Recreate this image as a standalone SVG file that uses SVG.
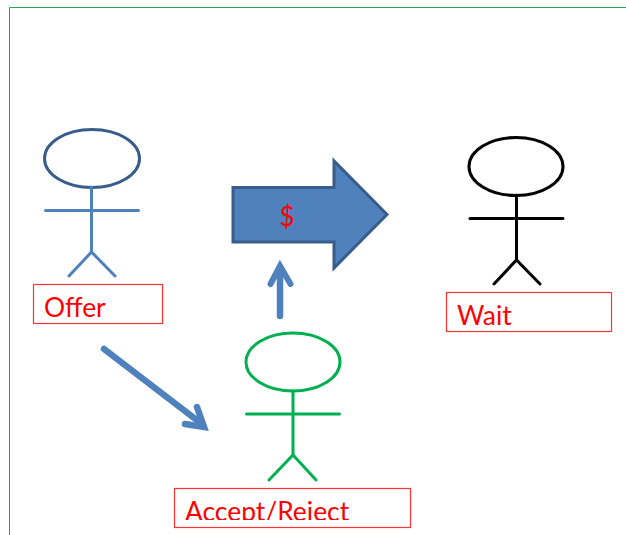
<svg xmlns="http://www.w3.org/2000/svg" width="626" height="535" viewBox="0 0 626 535">
<style>
.head{fill:#fff;stroke-width:3}
.limb{fill:none;stroke-width:3;stroke-linecap:round;stroke-linejoin:miter}
.box{fill:#fff;stroke:#f33;stroke-width:1.2}
.lbl{font-family:"Lato","Carlito","Liberation Sans",sans-serif;font-size:26.4px;fill:#f00}
.conn{fill:none;stroke:#4f81bd;stroke-width:6.5;stroke-linecap:round;stroke-linejoin:miter}
</style>
<defs><clipPath id="acc"><rect x="175" y="489" width="235" height="31"/></clipPath></defs>
<rect width="626" height="535" fill="#fff"/>
<g id="frame"><path d="M9.5 535V7.5H626" fill="none" stroke="#1fa855" stroke-width="1"/></g>
<g id="offer">
<ellipse class="head" cx="92" cy="158.500" rx="47.500" ry="29" stroke="#385d8a"/>
<path class="limb" stroke="#4f81bd" d="M91.500 187V252M45.500 210.500H138.500M69 276L91.500 252L115 276"/>
<rect class="box" x="33.500" y="284.500" width="129" height="39"/>
<text class="lbl" x="44" y="317">Offer</text>
</g>
<g id="accept">
<ellipse class="head" cx="293" cy="362" rx="47" ry="29" stroke="#00b050"/>
<path class="limb" stroke="#00b050" d="M293 391V455M246.500 414H339.500M269 480L293 455L316 480"/>
<rect class="box" x="174.500" y="488.500" width="236" height="39"/>
<text class="lbl" x="185" y="521" clip-path="url(#acc)">Accept/Reject</text>
</g>
<g id="wait">
<ellipse class="head" cx="516" cy="166.500" rx="47" ry="29" stroke="#000"/>
<path class="limb" stroke="#000" d="M516.500 195V260M470 218.500H563M494 284L516.500 260L540 284"/>
<rect class="box" x="446.500" y="292.500" width="165" height="39"/>
<text class="lbl" x="457" y="325">Wait</text>
</g>
<g id="payment">
<path d="M233 187.500H334V161L387 214.500L334 268V242H233Z" fill="#4f81bd" stroke="#385d8a" stroke-width="3"/>
<text x="287" y="226" text-anchor="middle" font-family="Lato,Carlito,'Liberation Sans',sans-serif" font-size="26" fill="#f00">$</text>
</g>
<g id="connectors">
<path class="conn" d="M104 349L198 421"/>
<path d="M197 407L204 427L185 424" fill="none" stroke="#4f81bd" stroke-width="6.500" stroke-linecap="round"/>
<path class="conn" d="M280 316V268"/>
<path d="M270.500 284L280 266L290.500 284" fill="none" stroke="#4f81bd" stroke-width="6" stroke-linecap="round"/>
</g>
</svg>
